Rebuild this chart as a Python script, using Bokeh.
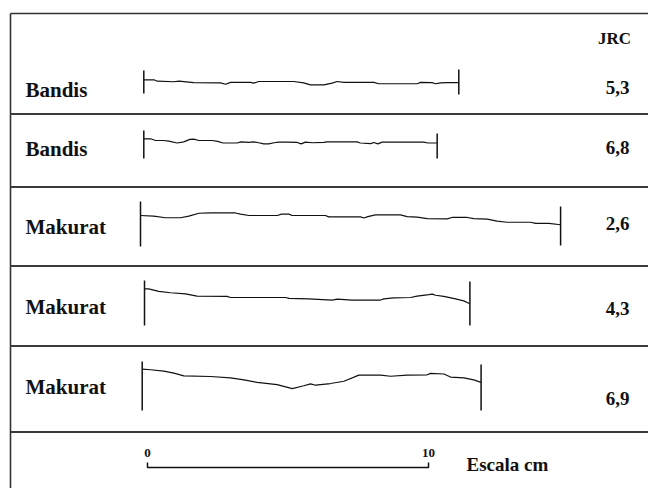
from bokeh.plotting import figure
from bokeh.models import Range1d
from bokeh.embed import file_html
from bokeh.resources import INLINE
from bokeh.core.properties import value

# ---------------- data ----------------
authors = ["Bandis", "Bandis", "Makurat", "Makurat", "Makurat"]
jrc_values = ["5,3", "6,8", "2,6", "4,3", "6,9"]
jrc_header = "JRC"
scale_ticks_cm = [0, 10]
scale_tick_labels = ["0", "10"]
scale_title = "Escala cm"

# profile 1 (Bandis, JRC 5,3): distance [cm], height [mm]
p1_x = [0, 0.36, 0.48, 1.07, 1.25, 1.78, 2.73, 2.91, 3.09, 3.80, 3.91, 4.09, 5.34, 5.69,
        5.93, 6.41, 6.70, 6.88, 7.12, 8.19, 8.36, 9.73, 9.85, 10.26, 10.38, 10.56, 10.80, 11.21]
p1_z = [0, 0, -0.5, -0.7, -0.5, -1.0, -1.1, -1.6, -0.9, -0.9, -1.2, -0.6, -0.6, -1.1,
        -1.8, -1.8, -1.2, -0.6, -0.9, -0.9, -1.4, -1.4, -0.9, -1.0, -1.4, -1.1, -1.0, -1.0]

# profile 2 (Bandis, JRC 6,8)
p2_x = [0, 0.24, 0.42, 0.71, 0.89, 1.19, 1.42, 1.64, 1.78, 1.96, 2.43, 2.63, 2.82, 3.32,
        3.46, 3.74, 3.91, 4.09, 4.27, 4.45, 4.63, 4.80, 5.10, 5.46, 5.60, 5.75, 5.99, 6.41,
        6.52, 7.59, 7.71, 8.07, 8.19, 8.33, 8.48, 9.96, 10.11, 10.44]
p2_z = [0, 0, -0.6, -0.6, -0.8, -1.5, -1.1, -0.2, -0.1, -0.6, -0.6, -0.9, -1.5, -1.5,
        -1.1, -1.3, -1.1, -1.4, -1.8, -1.8, -1.4, -1.2, -1.2, -1.3, -1.8, -1.2, -1.4, -1.3,
        -1.1, -1.1, -1.5, -1.7, -1.3, -1.8, -1.2, -1.2, -1.5, -1.5]

# profile 3 (Makurat, JRC 2,6)
p3_x = [0, 0.47, 0.89, 1.42, 1.72, 2.08, 2.49, 3.38, 3.56, 3.86, 4.87, 5.02, 5.28, 5.40,
        6.58, 6.70, 7.83, 7.95, 8.09, 8.36, 9.25, 9.49, 9.85, 10.20, 10.91, 11.09, 11.63,
        11.86, 12.34, 12.69, 13.05, 13.88, 14.06, 14.53, 14.95]
p3_z = [0, -0.2, -0.8, -0.8, -0.2, 0.8, 0.9, 0.9, 0.5, 0, 0, 0.5, 0.5, 0,
        0, -0.5, -0.5, -0.9, -0.4, 0.2, 0.2, -0.4, -0.6, -1.1, -1.2, -0.7, -0.7,
        -1.1, -1.3, -2.0, -2.4, -2.4, -2.8, -2.8, -3.3]

# profile 4 (Makurat, JRC 4,3)
p4_x = [0, 0.15, 0.51, 0.93, 1.46, 1.87, 2.94, 3.06, 5.02, 5.14, 5.84, 6.68, 6.86, 7.39,
        8.40, 8.52, 8.87, 9.47, 9.70, 10.12, 10.24, 10.36, 10.65, 11.07, 11.36, 11.58]
p4_z = [0, 0, -0.9, -1.4, -1.8, -2.6, -2.7, -3.1, -3.1, -3.4, -3.6, -4.0, -3.7, -4.0,
        -4.0, -3.6, -3.2, -3.1, -2.6, -2.1, -1.9, -2.3, -2.7, -3.6, -4.3, -5.3]

# profile 5 (Makurat, JRC 6,9)
p5_x = [0, 0.30, 0.77, 1.13, 1.48, 2.43, 3.14, 3.62, 4.09, 4.80, 5.34, 5.75, 5.99, 6.17,
        6.70, 7.18, 7.71, 8.48, 8.84, 9.43, 10.14, 10.26, 10.74, 10.97, 11.45, 11.80, 12.06]
p5_z = [0, -0.2, -0.7, -1.4, -2.4, -2.6, -3.1, -3.8, -4.7, -5.5, -6.9, -5.9, -5.2, -5.7,
        -5.1, -4.3, -2.1, -2.1, -2.5, -2.1, -2.0, -1.5, -1.7, -2.8, -3.1, -3.8, -4.7]

profiles_x = [p1_x, p2_x, p3_x, p4_x, p5_x]
profiles_z = [p1_z, p2_z, p3_z, p4_z, p5_z]

# ---------------- layout (picture pixels) ----------------
W, H = 648, 488
PX_PER_CM = 28.1
PX_PER_MM = 2.81
row_x0 = [143.3, 143.3, 140.0, 144.0, 141.7]
row_base = [79.3, 138.3, 215.0, 288.3, 368.7]
left_tick = [(70, 93), (130, 158), (201, 246), (280, 325), (361, 410)]
right_tick = [(69, 94), (133, 158), (206, 245), (281, 325), (364, 410)]
label_y = [89, 148, 226, 306, 386]
value_y = [87, 147, 223, 308, 398]
label_x = 25
value_x = 617
frame_left, frame_top = 10, 13
separators = [113.5, 186.5, 265.5, 345.5, 431.5]
scale_x0, scale_y, scale_tick_h = 147, 467, 5

INK = "#111111"
SERIF = value("Liberation Serif")

p = figure(width=W, height=H, output_backend="svg", toolbar_location=None,
           x_range=Range1d(0, W), y_range=Range1d(H, 0),
           x_axis_type=None, y_axis_type=None, min_border=0,
           outline_line_color=None, background_fill_color="white",
           border_fill_color="white")
p.grid.visible = False

# frame
p.segment(x0=[frame_left], y0=[frame_top], x1=[W + 20], y1=[frame_top],
          line_color="#333333", line_width=1.6)
p.segment(x0=[frame_left], y0=[frame_top], x1=[frame_left], y1=[H + 20],
          line_color="#333333", line_width=1.6)
p.segment(x0=[frame_left] * len(separators), y0=separators,
          x1=[W + 20] * len(separators), y1=separators,
          line_color="#3a3a3a", line_width=1.8)

# profiles
for i in range(len(profiles_x)):
    xs = [row_x0[i] + v * PX_PER_CM for v in profiles_x[i]]
    ys = [row_base[i] - v * PX_PER_MM for v in profiles_z[i]]
    p.line(xs, ys, line_color=INK, line_width=1.2)
    x_end = row_x0[i] + profiles_x[i][-1] * PX_PER_CM
    p.segment(x0=[row_x0[i], x_end], y0=[left_tick[i][0], right_tick[i][0]],
              x1=[row_x0[i], x_end], y1=[left_tick[i][1], right_tick[i][1]],
              line_color=INK, line_width=1.5)

# labels
p.text(x=[label_x] * len(authors), y=label_y, text=authors,
       text_font=SERIF, text_font_style="bold", text_font_size="21px",
       text_color=INK, text_align="left", text_baseline="middle")
p.text(x=[value_x] * len(jrc_values), y=value_y, text=jrc_values,
       text_font=SERIF, text_font_style="bold", text_font_size="19px",
       text_color=INK, text_align="center", text_baseline="middle")
p.text(x=[value_x - 3], y=[38], text=[jrc_header],
       text_font=SERIF, text_font_style="bold", text_font_size="17px",
       text_color=INK, text_align="center", text_baseline="middle")

# scale bar
sx = [scale_x0 + c * PX_PER_CM for c in scale_ticks_cm]
p.line([sx[0], sx[0], sx[1], sx[1]],
       [scale_y - scale_tick_h, scale_y, scale_y, scale_y - scale_tick_h],
       line_color=INK, line_width=1.5)
p.text(x=sx, y=[452, 452], text=scale_tick_labels,
       text_font=SERIF, text_font_style="bold", text_font_size="13px",
       text_color=INK, text_align="center", text_baseline="middle")
p.text(x=[466], y=[464], text=[scale_title],
       text_font=SERIF, text_font_style="bold", text_font_size="19px",
       text_color=INK, text_align="left", text_baseline="middle")

open("out.html", "w").write(file_html(p, INLINE))
